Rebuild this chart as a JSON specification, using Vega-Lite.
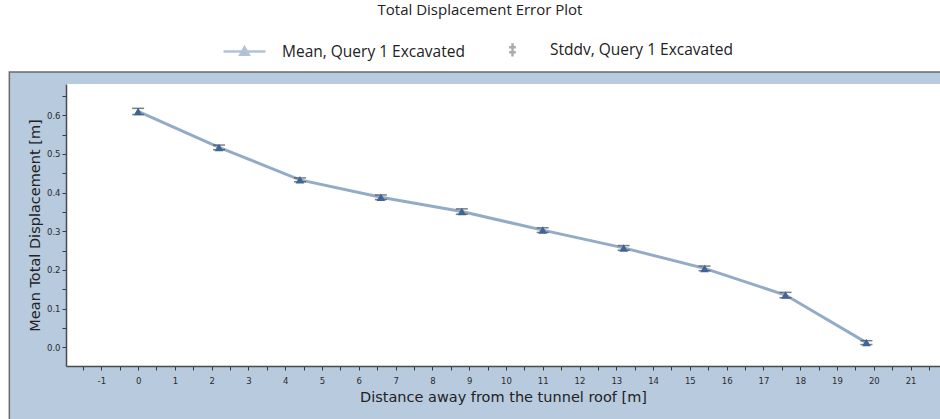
{
  "$schema": "https://vega.github.io/schema/vega-lite/v6.json",
  "width": 874,
  "height": 282,
  "autosize": "none",
  "padding": {"left": 66, "top": 84, "right": 0, "bottom": 53},
  "background": "white",
  "title": {
    "text": "Total Displacement Error Plot",
    "font": "Open Sans",
    "fontSize": 15,
    "fontWeight": "normal",
    "color": "#222222",
    "anchor": "middle",
    "dx": -23,
    "offset": 9
  },
  "data": {
    "values": [
      {"x": 0.0, "mean": 0.610, "sd_low": 0.602, "sd_high": 0.618, "series": "Mean, Query 1 Excavated"},
      {"x": 2.2, "mean": 0.517, "sd_low": 0.511, "sd_high": 0.523, "series": "Mean, Query 1 Excavated"},
      {"x": 4.4, "mean": 0.433, "sd_low": 0.428, "sd_high": 0.438, "series": "Mean, Query 1 Excavated"},
      {"x": 6.6, "mean": 0.388, "sd_low": 0.382, "sd_high": 0.394, "series": "Mean, Query 1 Excavated"},
      {"x": 8.8, "mean": 0.351, "sd_low": 0.344, "sd_high": 0.358, "series": "Mean, Query 1 Excavated"},
      {"x": 11.0, "mean": 0.303, "sd_low": 0.297, "sd_high": 0.309, "series": "Mean, Query 1 Excavated"},
      {"x": 13.2, "mean": 0.257, "sd_low": 0.251, "sd_high": 0.263, "series": "Mean, Query 1 Excavated"},
      {"x": 15.4, "mean": 0.204, "sd_low": 0.198, "sd_high": 0.210, "series": "Mean, Query 1 Excavated"},
      {"x": 17.6, "mean": 0.135, "sd_low": 0.128, "sd_high": 0.142, "series": "Mean, Query 1 Excavated"},
      {"x": 19.8, "mean": 0.012, "sd_low": 0.007, "sd_high": 0.017, "series": "Mean, Query 1 Excavated"}
    ]
  },
  "layer": [
    {
      "data": {"values": [{}]},
      "mark": {"type": "rect", "fill": "#b8cade", "stroke": "#6a6a6a", "strokeWidth": 1.5, "clip": false},
      "encoding": {
        "x": {"datum": -3.5, "type": "quantitative", "scale": {"domain": [-1.96, 21.8], "nice": false, "zero": false}},
        "x2": {"datum": 24},
        "y": {"datum": 0.712, "type": "quantitative", "scale": {"domain": [-0.0485, 0.681], "nice": false, "zero": false}},
        "y2": {"datum": -0.4}
      }
    },
    {
      "data": {"values": [{}]},
      "mark": {"type": "rect", "fill": "white", "clip": false},
      "encoding": {
        "x": {"datum": -1.96, "type": "quantitative"},
        "x2": {"datum": 21.8},
        "y": {"datum": 0.681, "type": "quantitative"},
        "y2": {"datum": -0.0485}
      }
    },
    {
      "mark": {"type": "line", "color": "#94abc7", "strokeWidth": 3},
      "encoding": {
        "x": {
          "field": "x", "type": "quantitative",
          "axis": {
            "zindex": 1,
            "tickCount": 200,
            "title": "Distance away from the tunnel roof [m]",
            "values": [-1.5,-1,-0.5,0,0.5,1,1.5,2,2.5,3,3.5,4,4.5,5,5.5,6,6.5,7,7.5,8,8.5,9,9.5,10,10.5,11,11.5,12,12.5,13,13.5,14,14.5,15,15.5,16,16.5,17,17.5,18,18.5,19,19.5,20,20.5,21,21.5],
            "labelExpr": "datum.value % 1 === 0 ? '' + datum.value : ''",
            "labelPadding": 6,
            "titlePadding": 6
          }
        },
        "y": {
          "field": "mean", "type": "quantitative",
          "title": "Mean Total Displacement [m]",
          "axis": {
            "zindex": 1,
            "tickCount": 200,
            "values": [0,0.05,0.1,0.15,0.2,0.25,0.3,0.35,0.4,0.45,0.5,0.55,0.6,0.65],
            "labelExpr": "abs(datum.value * 10 - round(datum.value * 10)) < 0.001 ? format(datum.value, '.1f') : ''",
            "labelPadding": 2,
            "titlePadding": 4
          }
        }
      }
    },
    {
      "mark": {"type": "errorbar", "ticks": {"size": 12, "color": "#45454d", "thickness": 1.5}, "rule": {"color": "#45454d"}},
      "encoding": {
        "x": {"field": "x", "type": "quantitative"},
        "y": {"field": "sd_low", "type": "quantitative", "title": "Mean Total Displacement [m]"},
        "y2": {"field": "sd_high"}
      }
    },
    {
      "mark": {"type": "point", "shape": "triangle-up", "filled": true, "color": "#3d6697", "size": 75, "opacity": 1},
      "encoding": {
        "x": {"field": "x", "type": "quantitative"},
        "y": {"field": "mean", "type": "quantitative"}
      }
    },
    {
      "transform": [{"filter": "false"}],
      "mark": {"type": "point", "filled": true},
      "encoding": {
        "x": {"field": "x", "type": "quantitative"},
        "y": {"field": "mean", "type": "quantitative"},
        "fill": {
          "field": "series", "type": "nominal",
          "scale": {"domain": ["Mean, Query 1 Excavated", "Stddv, Query 1 Excavated"], "range": ["#3d6697", "rgba(0,0,0,0)"]},
          "legend": {
            "title": null,
            "orient": "none",
            "direction": "horizontal",
            "legendX": 156,
            "legendY": -57,
            "symbolSize": 1764,
            "symbolStrokeWidth": 2.5,
            "labelOffset": 15,
            "columnPadding": 25,
            "labelLimit": 400,
            "labelFont": "Open Sans",
            "labelFontSize": 15.5,
            "labelColor": "#222222"
          }
        },
        "stroke": {
          "field": "series", "type": "nominal",
          "scale": {"domain": ["Mean, Query 1 Excavated", "Stddv, Query 1 Excavated"], "range": ["#94abc7", "#8c8782"]}
        },
        "shape": {
          "field": "series", "type": "nominal",
          "scale": {"domain": ["Mean, Query 1 Excavated", "Stddv, Query 1 Excavated"], "range": ["M-1,0L1,0M-0.2,0.16L0,-0.2L0.2,0.16Z", "M0,-0.32L0,0.32M-0.16,-0.13L0.16,-0.13M-0.16,0.11L0.16,0.11"]}
        }
      }
    }
  ],
  "config": {
    "view": {"stroke": null},
    "legend": {"symbolStrokeWidth": 1.6},
    "axis": {
      "grid": false,
      "domainColor": "#4a4a4a",
      "domainWidth": 1.5,
      "tickColor": "#3a3a3a",
      "tickSize": 4,
      "tickWidth": 1,
      "labelFont": "DejaVu Sans",
      "labelFontSize": 8.5,
      "labelColor": "#2a2a2a",
      "labelFlush": false,
      "labelOverlap": false,
      "titleFont": "DejaVu Sans",
      "titleFontSize": 14.5,
      "titleFontWeight": "normal",
      "titleColor": "#222222"
    }
  }
}
